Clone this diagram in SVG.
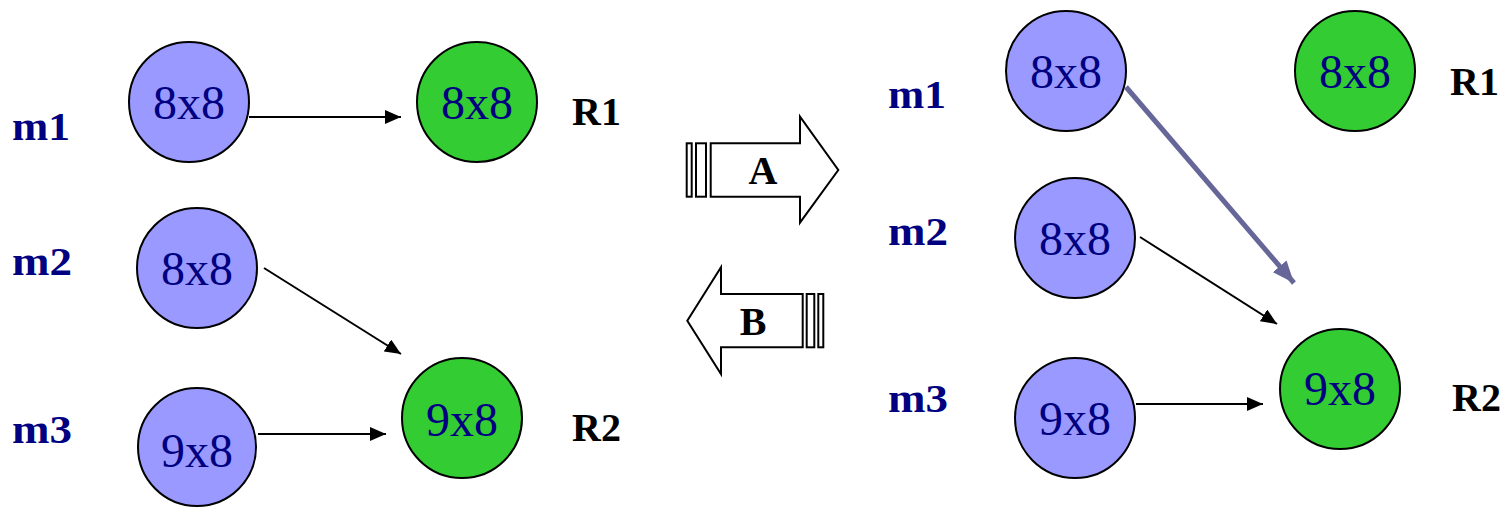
<svg xmlns="http://www.w3.org/2000/svg" width="1507" height="507" viewBox="0 0 1507 507">
  <style>
    .m { fill: #9999FF; stroke: #000; stroke-width: 2; }
    .r { fill: #33CC33; stroke: #000; stroke-width: 2; }
    .v { font-family: "Liberation Serif", "Times New Roman", serif; font-size: 48px; fill: #000080; text-anchor: middle; }
    .lbl { font-family: "Liberation Serif", "Times New Roman", serif; font-size: 40px; font-weight: bold; fill: #000080; }
    .rl { font-family: "Liberation Serif", "Times New Roman", serif; font-size: 40px; font-weight: bold; fill: #000; }
    .ab { font-family: "Liberation Serif", "Times New Roman", serif; font-size: 40px; font-weight: bold; fill: #000; text-anchor: middle; }
    .thin { stroke: #000; stroke-width: 2; fill: none; marker-end: url(#head); }
    .thick { stroke: #666699; stroke-width: 5; fill: none; marker-end: url(#headThick); }
    .big { fill: #fff; stroke: #000; stroke-width: 2; stroke-linejoin: miter; }
  </style>
  <defs>
    <marker id="head" markerUnits="userSpaceOnUse" markerWidth="16" markerHeight="14" refX="16" refY="7" orient="auto">
      <path d="M0,0 L16,7 L0,14 z" fill="#000"/>
    </marker>
    <marker id="headThick" markerUnits="userSpaceOnUse" markerWidth="22" markerHeight="18" refX="22" refY="9" orient="auto">
      <path d="M0,0 L22,9 L0,18 z" fill="#666699"/>
    </marker>
  </defs>
  <rect width="1507" height="507" fill="#fff"/>

  <!-- left configuration -->
  <g id="left-m1">
    <text class="lbl" x="12" y="140" textLength="58" lengthAdjust="spacingAndGlyphs">m1</text>
    <circle class="m" cx="189" cy="102" r="60"/>
    <text class="v" x="189" y="119">8x8</text>
  </g>
  <g id="left-R1">
    <circle class="r" cx="477" cy="102" r="60"/>
    <text class="v" x="477" y="119">8x8</text>
    <text class="rl" x="572" y="125">R1</text>
  </g>
  <g id="left-m2">
    <text class="lbl" x="12" y="275" textLength="60" lengthAdjust="spacingAndGlyphs">m2</text>
    <circle class="m" cx="197" cy="268" r="60"/>
    <text class="v" x="197" y="285">8x8</text>
  </g>
  <g id="left-m3">
    <text class="lbl" x="12" y="443" textLength="60" lengthAdjust="spacingAndGlyphs">m3</text>
    <circle class="m" cx="197" cy="447" r="59"/>
    <text class="v" x="197" y="467">9x8</text>
  </g>
  <g id="left-R2">
    <circle class="r" cx="462" cy="418" r="60"/>
    <text class="v" x="462" y="436">9x8</text>
    <text class="rl" x="572" y="441">R2</text>
  </g>

  <!-- transition arrows -->
  <g id="arrow-A">
    <rect class="big" x="686.7" y="143.3" width="5" height="53.4"/>
    <rect class="big" x="696" y="143.3" width="10" height="53.4"/>
    <polygon class="big" points="710.7,143.3 800,143.3 800,116.7 838.3,170 800,222.7 800,196.7 710.7,196.7"/>
    <text class="ab" x="763" y="184">A</text>
  </g>
  <g id="arrow-B">
    <polygon class="big" points="802.7,294 721,294 721,267.3 687.3,320.7 721,374 721,347.3 802.7,347.3"/>
    <rect class="big" x="806.7" y="294" width="7.6" height="53.3"/>
    <rect class="big" x="818.3" y="294" width="5" height="53.3"/>
    <text class="ab" x="753" y="335">B</text>
  </g>

  <!-- right configuration -->
  <g id="right-m1">
    <text class="lbl" x="888" y="108" textLength="58" lengthAdjust="spacingAndGlyphs">m1</text>
    <circle class="m" cx="1066" cy="71" r="60"/>
    <text class="v" x="1066" y="88">8x8</text>
  </g>
  <g id="right-R1">
    <circle class="r" cx="1355" cy="71" r="60"/>
    <text class="v" x="1355" y="88">8x8</text>
    <text class="rl" x="1450" y="95">R1</text>
  </g>
  <g id="right-m2">
    <text class="lbl" x="888" y="245" textLength="60" lengthAdjust="spacingAndGlyphs">m2</text>
    <circle class="m" cx="1075" cy="238" r="60"/>
    <text class="v" x="1075" y="255">8x8</text>
  </g>
  <g id="right-m3">
    <text class="lbl" x="888" y="412" textLength="60" lengthAdjust="spacingAndGlyphs">m3</text>
    <circle class="m" cx="1075" cy="418" r="60"/>
    <text class="v" x="1075" y="435">9x8</text>
  </g>
  <g id="right-R2">
    <circle class="r" cx="1340" cy="389" r="60"/>
    <text class="v" x="1340" y="405">9x8</text>
    <text class="rl" x="1452" y="411">R2</text>
  </g>

  <!-- connectors -->
  <g id="connectors">
    <line class="thin" x1="249" y1="117" x2="401" y2="117"/>
    <line class="thin" x1="264" y1="268" x2="401" y2="354"/>
    <line class="thin" x1="258" y1="434" x2="386" y2="434"/>
    <line class="thick" x1="1126" y1="87" x2="1294" y2="283"/>
    <line class="thin" x1="1140" y1="237" x2="1277" y2="324"/>
    <line class="thin" x1="1136" y1="404" x2="1263" y2="404"/>
  </g>
</svg>
